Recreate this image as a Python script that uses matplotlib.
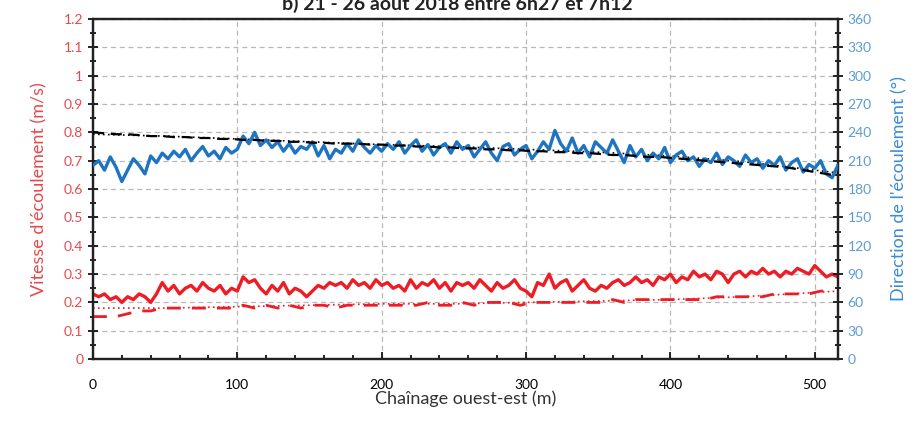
import numpy as np
import matplotlib
matplotlib.use("Agg")
import matplotlib.pyplot as plt
from matplotlib.ticker import MultipleLocator

plt.rcParams['font.family'] = ['Lato', 'DejaVu Sans']

# ---- data ----
x_fine = list(range(0, 520, 4))  # chaînage (m)

direction = [205, 210, 200, 214, 203, 188, 200, 212, 205, 196, 215, 208, 218,
             212, 220, 214, 222, 210, 218, 225, 215, 220, 212, 224, 218, 222,
             236, 228, 240, 226, 232, 224, 230, 220, 228, 218, 225, 222, 230,
             215, 226, 212, 222, 218, 228, 220, 232, 224, 218, 226, 220, 228,
             222, 230, 218, 226, 232, 220, 227, 216, 224, 228, 218, 230, 222,
             226, 214, 222, 230, 218, 210, 225, 228, 216, 222, 226, 212, 220,
             230, 222, 242, 228, 220, 234, 218, 226, 214, 230, 224, 218, 232,
             220, 208, 226, 214, 222, 210, 218, 212, 224, 208, 216, 220, 210,
             214, 204, 212, 208, 218, 206, 214, 210, 204, 216, 208, 212, 202,
             210, 205, 214, 200, 208, 212, 198, 206, 202, 210, 196, 192, 205]

vitesse = [0.23, 0.22, 0.23, 0.21, 0.22, 0.20, 0.22, 0.21, 0.23, 0.22, 0.20, 0.23, 0.27,
           0.24, 0.26, 0.23, 0.25, 0.26, 0.24, 0.27, 0.25, 0.24, 0.26, 0.23, 0.25, 0.24,
           0.29, 0.27, 0.28, 0.25, 0.23, 0.26, 0.24, 0.27, 0.23, 0.25, 0.24, 0.22, 0.24,
           0.26, 0.25, 0.27, 0.26, 0.27, 0.25, 0.28, 0.26, 0.27, 0.25, 0.28, 0.26, 0.27,
           0.25, 0.26, 0.24, 0.28, 0.25, 0.27, 0.26, 0.28, 0.25, 0.27, 0.24, 0.27, 0.26,
           0.27, 0.25, 0.28, 0.26, 0.24, 0.27, 0.25, 0.26, 0.28, 0.25, 0.24, 0.22, 0.27,
           0.26, 0.30, 0.25, 0.27, 0.28, 0.24, 0.26, 0.28, 0.25, 0.24, 0.26, 0.25, 0.27,
           0.28, 0.26, 0.27, 0.29, 0.27, 0.28, 0.26, 0.29, 0.28, 0.30, 0.27, 0.29, 0.28,
           0.31, 0.29, 0.30, 0.28, 0.31, 0.30, 0.27, 0.30, 0.31, 0.29, 0.31, 0.30, 0.32,
           0.30, 0.31, 0.29, 0.31, 0.30, 0.32, 0.31, 0.30, 0.33, 0.31, 0.29, 0.30, 0.29]

x_mid = list(range(0, 520, 8))
direction_ref = [240, 239, 238, 238, 237, 236, 236, 235, 235, 234, 234, 233, 233,
                 232, 232, 231, 231, 230, 230, 229, 229, 228, 228, 228, 227, 227,
                 226, 226, 225, 225, 224, 224, 223, 223, 222, 222, 221, 221, 220,
                 220, 219, 219, 218, 218, 217, 216, 216, 215, 214, 214, 213, 212,
                 211, 210, 209, 208, 207, 206, 205, 204, 203, 201, 199, 197, 195]

vitesse_ref = [0.15, 0.15, 0.15, 0.16, 0.17, 0.17, 0.18, 0.18, 0.18, 0.18, 0.18, 0.18, 0.18,
               0.19, 0.18, 0.19, 0.18, 0.19, 0.18, 0.19, 0.19, 0.18, 0.19, 0.19, 0.19, 0.19,
               0.19, 0.19, 0.19, 0.20, 0.19, 0.19, 0.20, 0.19, 0.20, 0.20, 0.20, 0.19, 0.20,
               0.20, 0.20, 0.20, 0.20, 0.20, 0.20, 0.21, 0.20, 0.21, 0.21, 0.21, 0.21, 0.21,
               0.21, 0.21, 0.22, 0.22, 0.22, 0.22, 0.22, 0.23, 0.23, 0.23, 0.23, 0.24, 0.24]

x_coarse = [0, 50, 100, 150, 200, 250, 300, 350, 400, 450, 500, 516]
vitesse_tend = [0.18, 0.18, 0.185, 0.19, 0.195, 0.195, 0.20, 0.205, 0.21, 0.22, 0.235, 0.24]
direction_tend = [238, 236, 233, 230, 227, 225, 222, 219, 215, 209, 200, 197]

# ---- figure ----
fig = plt.figure(figsize=(9.14, 4.21), dpi=100)
ax = fig.add_axes([0.1017, 0.147, 0.815, 0.808])
ax2 = ax.twinx()

red = '#ee1c25'
blue = '#1f74c0'

ax.plot(x_coarse, vitesse_tend, color=red, lw=1.2, ls=(0, (1, 2)), zorder=3)
ax.plot(x_mid, vitesse_ref, color=red, lw=2.0, ls=(0, (5, 4)), zorder=3)
ax.plot(x_fine, vitesse, color=red, lw=2.4, zorder=4)

ax2.plot(x_coarse, direction_tend, color='black', lw=1.2, ls=(0, (1, 2)), zorder=3)
ax2.plot(x_fine, direction, color=blue, lw=2.4, zorder=4)
ax2.plot(x_mid, direction_ref, color='black', lw=1.6, ls=(0, (5, 3)), zorder=5)

ax.set_xlim(0, 516)
ax.set_ylim(0, 1.2)
ax2.set_ylim(0, 360)

ax.xaxis.set_major_locator(MultipleLocator(100))
ax.xaxis.set_minor_locator(MultipleLocator(20))
ax.yaxis.set_major_locator(MultipleLocator(0.1))
ax.yaxis.set_minor_locator(MultipleLocator(0.05))
ax2.yaxis.set_major_locator(MultipleLocator(30))
ax2.yaxis.set_minor_locator(MultipleLocator(15))

def fmt(v, pos):
    s = ('%.1f' % v).rstrip('0').rstrip('.')
    return s if s else '0'
ax.yaxis.set_major_formatter(plt.FuncFormatter(fmt))

ax.grid(True, which='major', color='#b8b8b8', ls=(0, (4, 3)), lw=0.9)

ax.tick_params(axis='x', which='both', direction='in', length=5, width=1.2,
               labelsize=10, pad=14, colors='black')
ax.tick_params(axis='x', which='minor', length=3)
ax.tick_params(axis='y', which='both', direction='inout', length=7, width=1.2,
               labelsize=10, labelcolor='#e8474b')
ax.tick_params(axis='y', which='minor', length=5)
ax2.tick_params(axis='y', which='both', direction='inout', length=7, width=1.2,
                labelsize=10, labelcolor='#5b9bd5')
ax2.tick_params(axis='y', which='minor', length=5)

for a in (ax, ax2):
    for sp in a.spines.values():
        sp.set_linewidth(1.6)
        sp.set_color('#222222')

ax.set_xlabel('Chaînage ouest-est (m)', fontsize=13, labelpad=0, color='#333333')
ax.set_ylabel("Vitesse d'écoulement (m/s)", fontsize=13, color='#e8474b', labelpad=12)
ax2.set_ylabel("Direction de l'écoulement (°)", fontsize=13, color='#3d8bd0', labelpad=14)

fig.text(0.5, 0.99, 'b) 21 - 26 août 2018 entre 6h27 et 7h12', ha='center', va='center',
         fontsize=14, fontweight='bold', color='#222222')

fig.savefig('out.png', dpi=100)
